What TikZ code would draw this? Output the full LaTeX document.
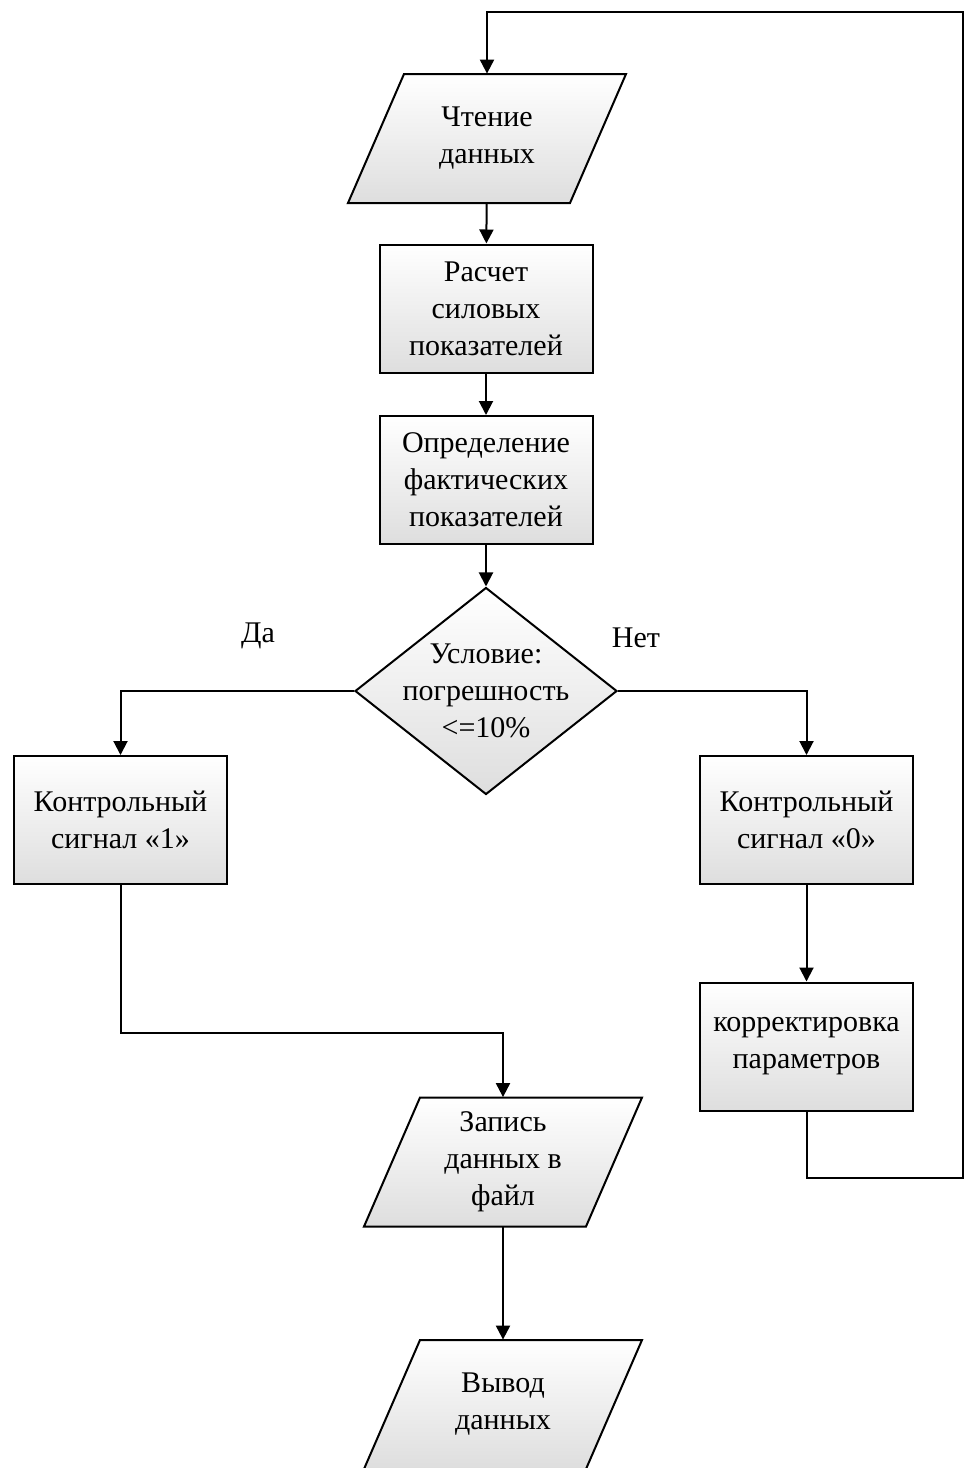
\documentclass[tikz,border=0pt]{standalone}
\usepackage{fontspec}
\setmainfont{Liberation Serif}
\usetikzlibrary{shapes.geometric,arrows.meta}

\tikzset{
  blkline/.style={draw, line width=1pt, top color=white, bottom color=black!13},
  blktext/.style={align=center, font=\fontsize{15}{18.5}\selectfont, inner sep=2pt},
  procbox/.style={blkline, blktext, rectangle, minimum width=106.5pt, minimum height=64pt},
  iobox/.style={blktext, rectangle, minimum width=111pt, minimum height=64.5pt},
  ifbox/.style={blkline, diamond, minimum width=131pt, minimum height=103.5pt, inner sep=0pt},
  iopara/.pic={\path [blkline] (-83,64.5) -- (139,64.5) -- (83,-64.5) -- (-139,-64.5) -- cycle;},
  arr/.style={line width=1pt, -{Triangle[length=7pt,width=7pt]}},
  lbl/.style={font=\fontsize{15}{18}\selectfont}
}

\begin{document}
\begin{tikzpicture}[x=0.5pt,y=0.5pt,yscale=-1,xscale=1]
\clip (0,0) rectangle (964,1468);

%Shape: Parallelogram [id:read]
\pic at (487,138.5) {iopara};
\node (read) [iobox] at (487,138.5) {Чтение\\данных};
%Shape: Rectangle [id:calc]
\node (calc) [procbox] at (486,308.5) {Расчет\\силовых\\показателей};
%Shape: Rectangle [id:fact]
\node (fact) [procbox] at (486,480) {Определение\\фактических\\показателей};
%Shape: Diamond [id:cond]
\node (cond) [ifbox, label={[blktext]center:Условие:\\погрешность\\<=10\%}] at (486,691) {};
%Shape: Rectangle [id:sig1]
\node (sig1) [procbox] at (120.5,820) {Контрольный\\сигнал «1»};
%Shape: Rectangle [id:sig0]
\node (sig0) [procbox] at (806.5,820) {Контрольный\\сигнал «0»};
%Shape: Rectangle [id:corr]
\node (corr) [procbox] at (806.5,1046.5) {корректировка\\параметров};
%Shape: Parallelogram [id:write]
\pic at (503,1162) {iopara};
\node (write) [iobox] at (503,1162) {Запись\\данных в\\файл};
%Shape: Parallelogram [id:out]
\pic at (503,1404.5) {iopara};
\node (out) [iobox] at (503,1404.5) {Вывод\\данных};

\coordinate (loopR) at (963,12);

%Straight Lines
\draw [arr] (read) -- (calc);
\draw [arr] (calc) -- (fact);
\draw [arr] (fact) -- (cond);
\draw [arr] (cond.west) -| (sig1.north);
\draw [arr] (cond.east) -| (sig0.north);
\draw [arr] (sig0) -- (corr);
\draw [arr] (sig1.south) -- ++(0,148) -| (write.north);
\draw [arr] (write) -- (out);
\draw [arr] (corr.south) -- ++(0,66) -| (loopR) -| (read.north);

% Text Node
\node (yes) [lbl] at (258,636) {Да};
% Text Node
\node (no) [lbl] at (636,638) {Нет};

\end{tikzpicture}
\end{document}
